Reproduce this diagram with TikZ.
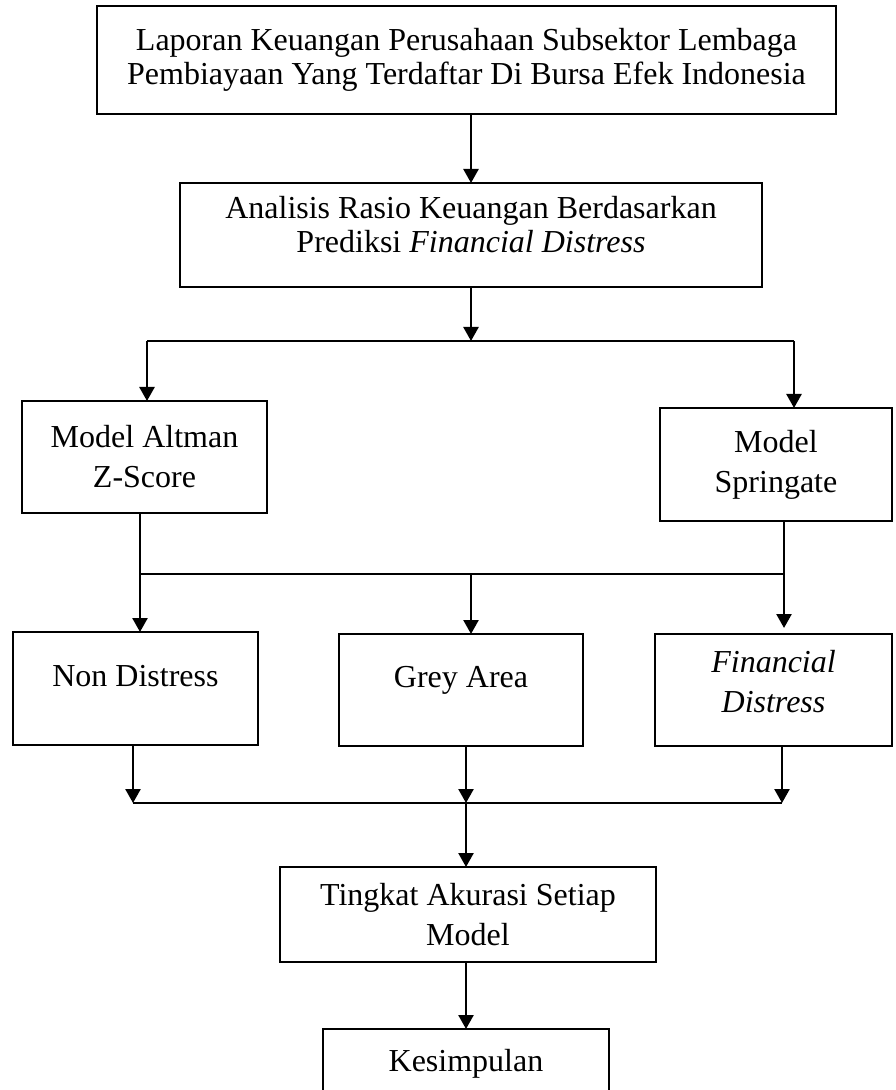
\documentclass[tikz,border=0pt]{standalone}
\usepackage{fontspec}
\setmainfont{Liberation Serif}
\usetikzlibrary{arrows.meta, positioning}

\begin{document}
\begin{tikzpicture}[x=0.5pt, y=-0.5pt,
        box/.style={draw, line width=1.3pt, inner sep=0pt, outer sep=0pt, align=center,
                font=\fontsize{16}{20}\selectfont},
        tight/.style={font=\fontsize{16}{17}\selectfont},
        arr/.style={-{Triangle[width=7.5pt,length=7pt]}, line width=1.25pt},
        link/.style={line width=0.7pt}]
        \useasboundingbox (0,0) rectangle (895,1090);
        % boxes
        \node[box, tight, minimum width=369.5pt, minimum height=54pt] (lap) at (466.5,60)
                {Laporan Keuangan Perusahaan Subsektor Lembaga\\Pembiayaan Yang Terdaftar Di Bursa Efek Indonesia};
        \node[box, tight, minimum width=291pt, minimum height=52pt, text depth=10.5pt] (ana) at (471,235)
                {Analisis Rasio Keuangan Berdasarkan\\Prediksi \textit{Financial Distress}};
        \node[box, minimum width=122.5pt, minimum height=56pt] (alt) at (144.5,457) {Model Altman\\Z-Score};
        \node[box, minimum width=116pt, minimum height=56.5pt] (spr) at (776,464.5) {Model\\Springate};
        \node[box, minimum width=122.5pt, minimum height=56.5pt, text depth=13pt] (non) at (135.5,688.5) {Non Distress};
        \node[box, minimum width=122pt, minimum height=56pt, text depth=13pt] (grey) at (461,690) {Grey Area};
        \node[box, minimum width=118.5pt, minimum height=56pt, text depth=8.5pt] (fin) at (773.5,690)
                {\textit{Financial}\\\textit{Distress}};
        \node[box, minimum width=188pt, minimum height=47.5pt] (ting) at (468,914.5) {Tingkat Akurasi Setiap\\Model};
        \node[box, minimum width=143pt, minimum height=35pt] (kes) at (466,1064) {Kesimpulan};
        % junctions
        \coordinate (s1) at (471,341);
        \coordinate (s1l) at (147,341);
        \coordinate (s1r) at (794,341);
        \coordinate (s2l) at (140,574);
        \coordinate (s2m) at (471,574);
        \coordinate (s2r) at (784,574);
        \coordinate (s3l) at (133,803);
        \coordinate (s3m) at (466,803);
        \coordinate (s3r) at (782,803);
        % connectors
        \draw[arr] (lap.south -| ana) -- (ana.north);
        \draw[arr] (ana.south) -- (s1);
        \draw[link] (s1l) -- (s1r);
        \draw[arr] (s1l) -- (s1l |- alt.north);
        \draw[arr] (s1r) -- (s1r |- spr.north);
        \draw[link] (s2l |- alt.south) -- (s2l) -- (s2r) -- (s2r |- spr.south);
        \draw[arr] (s2l) -- (s2l |- non.north);
        \draw[arr] (s2m) -- (s2m |- grey.north);
        \draw[arr] (s2r) -- ++(0,54);
        \draw[link] (s3l) -- (s3r);
        \draw[arr] (s3l |- non.south) -- (s3l);
        \draw[arr] (s3m |- grey.south) -- (s3m);
        \draw[arr] (s3r |- fin.south) -- (s3r);
        \draw[arr] (s3m) -- (s3m |- ting.north);
        \draw[arr] (ting.south -| kes) -- (kes.north);
\end{tikzpicture}
\end{document}
